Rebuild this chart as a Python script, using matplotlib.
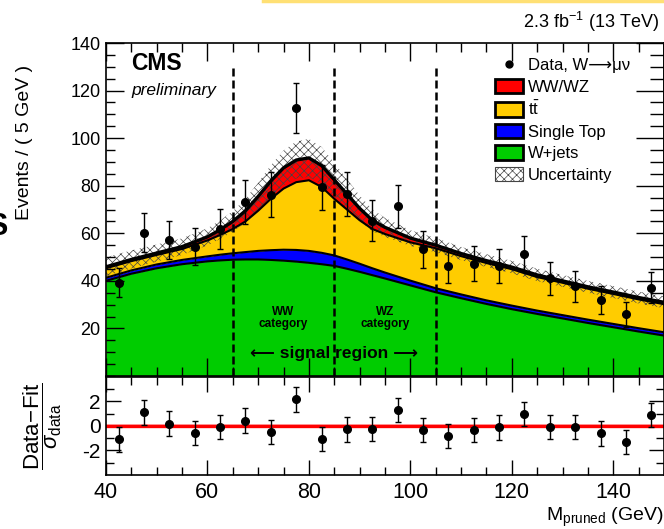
import numpy as np
import matplotlib
matplotlib.use("Agg")
import matplotlib.pyplot as plt
from matplotlib.patches import Patch
from matplotlib.lines import Line2D
from matplotlib.ticker import MultipleLocator, FixedLocator

# fit components (events / 5 GeV)
m_fit = [40, 45, 50, 55, 60, 62.5, 65, 67.5, 70, 72.5, 75, 77.5, 80, 82.5, 85,
         87.5, 90, 92.5, 95, 100, 105, 110, 115, 120, 125, 130, 135, 140, 145, 150]
wjets = [40.0, 43.0, 45.3, 47.0, 48.2, 48.6, 48.9, 49.0, 49.0, 48.8, 48.5, 48.1, 47.6, 47.0, 46.3,
         45.1, 43.8, 42.4, 41.0, 38.1, 35.2, 32.7, 30.3, 28.1, 26.1, 24.2, 22.3, 20.5, 18.7, 17.0]
single_top = [1.3, 1.4, 1.6, 1.8, 2.1, 2.4, 2.7, 3.1, 3.6, 4.1, 4.6, 4.9, 5.0, 4.8, 4.4,
              3.9, 3.4, 2.9, 2.5, 2.0, 1.7, 1.6, 1.5, 1.5, 1.4, 1.4, 1.4, 1.4, 1.4, 1.4]
ttbar = [4.0, 3.9, 4.0, 4.6, 6.7, 8.3, 10.2, 12.9, 16.9, 21.6, 25.7, 28.5, 29.7, 27.7, 23.8,
         21.0, 18.3, 16.5, 16.2, 16.1, 16.8, 16.1, 15.7, 15.3, 14.1, 13.6, 13.0, 12.6, 12.1, 11.8]
diboson = [0.6, 0.7, 0.8, 1.0, 1.5, 2.2, 3.2, 4.5, 6.0, 7.5, 8.7, 9.3, 9.4, 9.0, 8.0,
           6.5, 5.0, 3.7, 2.8, 1.8, 1.3, 1.1, 1.0, 0.9, 0.9, 0.8, 0.8, 0.8, 0.8, 0.8]
unc = [4.0, 3.8, 3.6, 3.5, 3.6, 3.9, 4.3, 5.0, 5.8, 6.6, 7.3, 7.8, 8.0, 7.8, 7.2,
       6.3, 5.4, 4.6, 4.0, 3.3, 3.0, 2.8, 2.7, 2.6, 2.6, 2.5, 2.5, 2.5, 2.5, 2.5]

# data
m_data = [42.5, 47.5, 52.5, 57.5, 62.5, 67.5, 72.5, 77.5, 82.5, 87.5, 92.5,
          97.5, 102.5, 107.5, 112.5, 117.5, 122.5, 127.5, 132.5, 137.5, 142.5, 147.5]
n_data = [39.2, 60.3, 57.1, 54.3, 62.0, 73.2, 76.3, 112.7, 79.4, 76.5, 65.3,
          71.4, 53.2, 46.2, 47.3, 46.2, 51.3, 41.0, 37.8, 31.9, 25.9, 37.1]
n_err = [6.0, 8.3, 8.1, 7.8, 8.4, 9.2, 9.4, 10.6, 9.4, 9.4, 8.6,
         9.1, 7.8, 7.2, 7.3, 7.2, 7.6, 6.8, 6.5, 6.0, 5.4, 6.5]
pull = [-1.1, 1.1, 0.2, -0.56, -0.1, 0.43, -0.48, 2.17, -1.05, -0.28, -0.23,
        1.3, -0.34, -0.83, -0.34, -0.12, 0.97, -0.07, -0.1, -0.61, -1.3, 0.89]
pull_err = [1.0] * len(pull)

c_green = "#00CC00"
c_blue = "#0000FF"
c_yellow = "#FFCC00"
c_red = "#FF0000"
c_hatch = "#444444"

x = np.array(m_fit)
l1 = np.array(wjets)
l2 = l1 + np.array(single_top)
l3 = l2 + np.array(ttbar)
l4 = l3 + np.array(diboson)
u = np.array(unc)

plt.rcParams['font.family'] = ['Liberation Sans', 'DejaVu Sans']
plt.rcParams['hatch.linewidth'] = 0.5
plt.rcParams['mathtext.fontset'] = 'custom'
plt.rcParams['mathtext.rm'] = 'Liberation Sans'
plt.rcParams['mathtext.it'] = 'Liberation Sans:italic'

fig = plt.figure(figsize=(6.64, 5.29), dpi=100)
ax = fig.add_axes([0.1596, 0.2892, 0.8404, 0.6295])
axr = fig.add_axes([0.1596, 0.1021, 0.8404, 0.1853])

# stacked fit
ax.fill_between(x, 0, l1, color=c_green, lw=0)
ax.fill_between(x, l1, l2, color=c_blue, lw=0)
ax.fill_between(x, l2, l3, color=c_yellow, lw=0)
ax.fill_between(x, l3, l4, color=c_red, lw=0)
ax.fill_between(x, l4 - u, l4 + u, facecolor='none', edgecolor=c_hatch,
                hatch='xxxx', lw=0)
for top, w in [(l1, 1.5), (l2, 1.5), (l3, 1.5), (l4, 2.4)]:
    ax.plot(x, top, color='black', lw=w)

for xv in [65, 85, 105]:
    ax.plot([xv, xv], [0, 130], color='black', lw=1.8, ls=(0, (3.2, 1.6)))

ax.errorbar(m_data, n_data, yerr=n_err, fmt='o', color='black', ms=5.5,
            elinewidth=1, capsize=2.5, capthick=1, zorder=5)

ax.set_xlim(40, 150)
ax.set_ylim(0, 140)
ax.xaxis.set_major_locator(MultipleLocator(20))
ax.xaxis.set_minor_locator(MultipleLocator(5))
ax.yaxis.set_major_locator(MultipleLocator(20))
ax.yaxis.set_minor_locator(MultipleLocator(5))
ax.set_yticks([20, 40, 60, 80, 100, 120, 140])
ax.tick_params(axis='both', which='both', direction='in', top=True, right=False)
ax.tick_params(axis='both', which='major', length=13, width=1)
ax.tick_params(axis='both', which='minor', length=6.5, width=1)
ax.tick_params(axis='y', labelsize=13, pad=4)
ax.tick_params(axis='x', labelbottom=False)
ax.set_ylabel('Events / ( 5 GeV )', fontsize=14, labelpad=10)
ax.yaxis.set_label_coords(-0.13, 0.70)

# right-hand ticks are longer in the original
ax2 = ax.secondary_yaxis('right')
ax2.yaxis.set_major_locator(MultipleLocator(20))
ax2.yaxis.set_minor_locator(MultipleLocator(5))
ax2.tick_params(axis='y', which='both', direction='in', labelright=False)
ax2.tick_params(axis='y', which='major', length=20, width=1)
ax2.tick_params(axis='y', which='minor', length=10, width=1)

ax.text(0.045, 0.919, 'CMS', transform=ax.transAxes, fontsize=16.5, weight='bold',
        va='baseline', ha='left')
ax.text(0.045, 0.844, 'preliminary', transform=ax.transAxes, fontsize=12.5,
        style='italic', va='baseline', ha='left')
ax.text(75, 24.4, 'WW\ncategory', ha='center', va='center', fontsize=8.5,
        weight='bold', linespacing=0.95)
ax.text(95, 24.4, 'WZ\ncategory', ha='center', va='center', fontsize=8.5,
        weight='bold', linespacing=0.95)
ax.text(85, 9.5, '\u27f5 signal region \u27f6', ha='center',
        va='center', fontsize=12.5, weight='bold')

handles = [
    Line2D([], [], marker='o', color='black', ls='none', ms=5),
    Patch(facecolor=c_red, edgecolor='black', lw=2),
    Patch(facecolor=c_yellow, edgecolor='black', lw=2),
    Patch(facecolor=c_blue, edgecolor='black', lw=2),
    Patch(facecolor=c_green, edgecolor='black', lw=2),
    Patch(facecolor='white', edgecolor=c_hatch, hatch='xxxx', lw=0.8),
]
labels = ['Data, W\u27f6\u03bc\u03bd', 'WW/WZ', r't$\bar{\mathrm{t}}$',
          'Single Top', 'W+jets', 'Uncertainty']
ax.legend(handles, labels, loc='upper left', bbox_to_anchor=(0.685, 0.978),
          frameon=False, fontsize=12, handlelength=1.7, handleheight=1.0,
          handletextpad=0.3, labelspacing=0.32, borderaxespad=0)

fig.text(0.993, 0.958, r'2.3 fb$^{-1}$ (13 TeV)', ha='right', va='center',
         fontsize=13)

# pull panel
axr.axhspan(-0.15, 0.15, color='#FFB0B0', lw=0)
axr.axhline(0, color=c_red, lw=2.4)
axr.errorbar(m_data, pull, yerr=pull_err, fmt='o', color='black', ms=5.5,
             elinewidth=1, capsize=2.5, capthick=1, zorder=5)
axr.set_xlim(40, 150)
axr.set_ylim(-4, 4)
axr.xaxis.set_major_locator(MultipleLocator(20))
axr.xaxis.set_minor_locator(MultipleLocator(5))
axr.yaxis.set_major_locator(FixedLocator([-2, 0, 2]))
axr.yaxis.set_minor_locator(FixedLocator([-3, -1, 1, 3]))
axr.tick_params(axis='both', which='both', direction='in', top=True, right=True)
axr.tick_params(axis='both', which='major', length=11, width=1)
axr.tick_params(axis='both', which='minor', length=5.5, width=1)
axr.tick_params(axis='x', labelsize=15.5, pad=5)
axr.tick_params(axis='y', labelsize=15, pad=4)
axr.set_yticklabels(['-2', '0', '2'])
axr.set_ylabel(r'$\dfrac{\mathrm{Data\!-\!Fit}}{\sigma_{\mathrm{data}}}$',
               fontsize=16)
axr.yaxis.set_label_coords(-0.075, 0.5)
fig.text(0.999, 0.0, r'M$_{\mathrm{pruned}}$ (GeV)', ha='right', va='bottom',
         fontsize=14)

for a in (ax, axr):
    for s in a.spines.values():
        s.set_linewidth(1.2)
ax2.spines['right'].set_linewidth(1.2)

# stray bits at the canvas edges
fig.add_artist(Line2D([0.396, 1.0], [0.998, 0.998], color='#FFE074', lw=2.5))
fig.text(0.012, 0.57, 'S', ha='right', va='center', fontsize=22, weight='bold')

fig.savefig('out.png', dpi=100)
